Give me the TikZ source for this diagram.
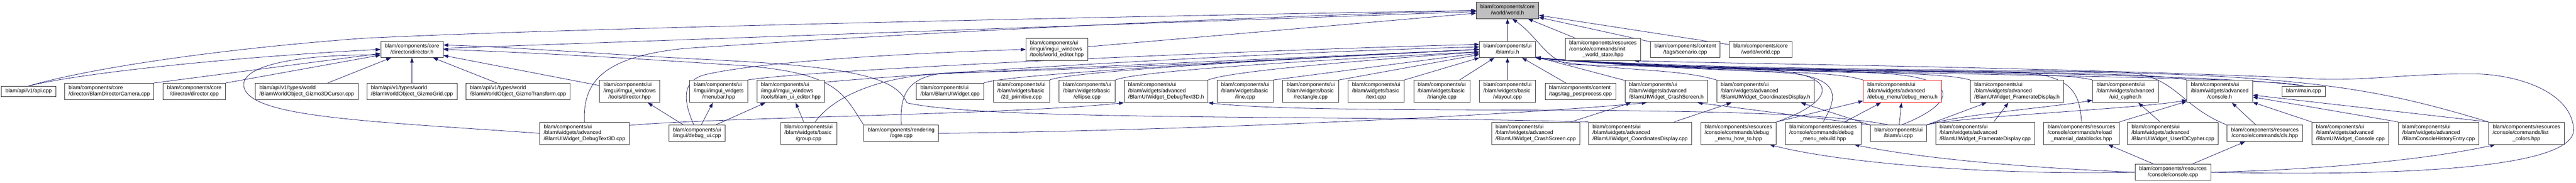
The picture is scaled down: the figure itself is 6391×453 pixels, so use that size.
\documentclass[tikz,border=0pt]{standalone}
\usepackage{fontspec}
\setmainfont{Liberation Sans}
\usetikzlibrary{arrows.meta}
\pgfdeclarelayer{bg}
\pgfsetlayers{bg,main}
\definecolor{edgeblue}{HTML}{191970}
\definecolor{rootgray}{HTML}{BFBFBF}
\newcommand{\oneln}[1]{\begin{tabular}{@{}c@{}}#1\end{tabular}}
\newcommand{\twoln}[2]{\begin{tabular}{@{}l@{}}#1\\\multicolumn{1}{@{}c@{}}{#2}\end{tabular}}
\newcommand{\threeln}[3]{\begin{tabular}{@{}l@{}}#1\\#2\\\multicolumn{1}{@{}c@{}}{#3}\end{tabular}}
\tikzset{
  file/.style={draw=black!80, fill=white, line width=0.75pt, inner xsep=7.5pt, inner ysep=3.9pt, font=\fontsize{10}{11.25}\selectfont},
  root/.style={file, fill=rootgray},
  trunc/.style={file, draw=red},
  inc/.style={draw=edgeblue, line width=0.75pt, -{Triangle[length=9pt,width=6.5pt]}}
}

\begin{document}
\begin{tikzpicture}[x=0.75pt, y=-0.75pt]
			%%%%% START %%%%%
			\useasboundingbox (0,0) rectangle (6391,453);
			
			\node[root] (worldh) at (3740,26) {\twoln{blam/components/core}{/world/world.h}};
			
			\node[file] (dirh) at (1022,122.5) {\twoln{blam/components/core}{/director/director.h}};
			\node[file] (wed) at (2622,122.5) {\threeln{blam/components/ui}{/imgui/imgui\_windows}{/tools/world\_editor.hpp}};
			\node[file] (uih) at (3740,122.5) {\twoln{blam/components/ui}{/blam/ui.h}};
			\node[file] (initws) at (3977,122.5) {\threeln{blam/components/resources}{/console/commands/init}{\_world\_state.hpp}};
			\node[file] (scen) at (4181,122.5) {\twoln{blam/components/content}{/tags/scenario.cpp}};
			\node[file] (worldcpp) at (4368,122.5) {\twoln{blam/components/core}{/world/world.cpp}};
			
			\node[file] (api) at (71,226.5) {\oneln{blam/api/v1/api.cpp}};
			\node[file] (dircam) at (271,226.5) {\twoln{blam/components/core}{/director/BlamDirectorCamera.cpp}};
			\node[file] (dircpp) at (482,226.5) {\twoln{blam/components/core}{/director/director.cpp}};
			\node[file] (cursor) at (761,226.5) {\twoln{blam/api/v1/types/world}{/BlamWorldObject\_Gizmo3DCursor.cpp}};
			\node[file] (grid) at (1022,226.5) {\twoln{blam/api/v1/types/world}{/BlamWorldObject\_GizmoGrid.cpp}};
			\node[file] (gtrans) at (1285,226.5) {\twoln{blam/api/v1/types/world}{/BlamWorldObject\_GizmoTransform.cpp}};
			\node[file] (dirhpp) at (1562,226.5) {\threeln{blam/components/ui}{/imgui/imgui\_windows}{/tools/director.hpp}};
			\node[file] (menubar) at (1783,226.5) {\threeln{blam/components/ui}{/imgui/imgui\_widgets}{/menubar.hpp}};
			\node[file] (uied) at (1962,226.5) {\threeln{blam/components/ui}{/imgui/imgui\_windows}{/tools/blam\_ui\_editor.hpp}};
			\node[file] (widgetcpp) at (2357,226.5) {\twoln{blam/components/ui}{/blam/BlamUIWidget.cpp}};
			\node[file] (prim) at (2534,226.5) {\threeln{blam/components/ui}{/blam/widgets/basic}{/2d\_primitive.cpp}};
			\node[file] (ellipse) at (2697,226.5) {\threeln{blam/components/ui}{/blam/widgets/basic}{/ellipse.cpp}};
			\node[file] (dt3dh) at (2893,226.5) {\threeln{blam/components/ui}{/blam/widgets/advanced}{/BlamUIWidget\_DebugText3D.h}};
			\node[file] (linecpp) at (3089,226.5) {\threeln{blam/components/ui}{/blam/widgets/basic}{/line.cpp}};
			\node[file] (rectcpp) at (3252,226.5) {\threeln{blam/components/ui}{/blam/widgets/basic}{/rectangle.cpp}};
			\node[file] (textcpp) at (3414,226.5) {\threeln{blam/components/ui}{/blam/widgets/basic}{/text.cpp}};
			\node[file] (tricpp) at (3577,226.5) {\threeln{blam/components/ui}{/blam/widgets/basic}{/triangle.cpp}};
			\node[file] (vlay) at (3740,226.5) {\threeln{blam/components/ui}{/blam/widgets/basic}{/vlayout.cpp}};
			\node[file] (tagpp) at (3921,226.5) {\twoln{blam/components/content}{/tags/tag\_postprocess.cpp}};
			\node[file] (crashh) at (4134,226.5) {\threeln{blam/components/ui}{/blam/widgets/advanced}{/BlamUIWidget\_CrashScreen.h}};
			\node[file] (coordh) at (4380,226.5) {\threeln{blam/components/ui}{/blam/widgets/advanced}{/BlamUIWidget\_CoordinatesDisplay.h}};
			\node[trunc] (dbgmenu) at (4720,226.5) {\threeln{blam/components/ui}{/blam/widgets/advanced}{/debug\_menu/debug\_menu.h}};
			\node[file] (frameh) at (5004,226.5) {\threeln{blam/components/ui}{/blam/widgets/advanced}{/BlamUIWidget\_FramerateDisplay.h}};
			\node[file] (uidh) at (5273,226.5) {\threeln{blam/components/ui}{/blam/widgets/advanced}{/uid\_cypher.h}};
			\node[file] (consh) at (5507,226.5) {\threeln{blam/components/ui}{/blam/widgets/advanced}{/console.h}};
			\node[file] (mainc) at (5715,226.5) {\oneln{blam/main.cpp}};
			
			\node[file] (dt3dcpp) at (1450,330.5) {\threeln{blam/components/ui}{/blam/widgets/advanced}{/BlamUIWidget\_DebugText3D.cpp}};
			\node[file] (dbgui) at (1729,330.5) {\twoln{blam/components/ui}{/imgui/debug\_ui.cpp}};
			\node[file] (group) at (2006,330.5) {\threeln{blam/components/ui}{/blam/widgets/basic}{/group.cpp}};
			\node[file] (ogre) at (2236,330.5) {\twoln{blam/components/rendering}{/ogre.cpp}};
			\node[file] (crashcpp) at (3810,330.5) {\threeln{blam/components/ui}{/blam/widgets/advanced}{/BlamUIWidget\_CrashScreen.cpp}};
			\node[file] (coordcpp) at (4069,330.5) {\threeln{blam/components/ui}{/blam/widgets/advanced}{/BlamUIWidget\_CoordinatesDisplay.cpp}};
			\node[file] (howto) at (4313,330.5) {\threeln{blam/components/resources}{/console/commands/debug}{\_menu\_how\_to.hpp}};
			\node[file] (rebuild) at (4523,330.5) {\threeln{blam/components/resources}{/console/commands/debug}{\_menu\_rebuild.hpp}};
			\node[file] (uicpp) at (4710,330.5) {\twoln{blam/components/ui}{/blam/ui.cpp}};
			\node[file] (framecpp) at (4925,330.5) {\threeln{blam/components/ui}{/blam/widgets/advanced}{/BlamUIWidget\_FramerateDisplay.cpp}};
			\node[file] (reload) at (5164,330.5) {\threeln{blam/components/resources}{/console/commands/reload}{\_material\_datablocks.hpp}};
			\node[file] (uidcpp) at (5391,330.5) {\threeln{blam/components/ui}{/blam/widgets/advanced}{/BlamUIWidget\_UserIDCypher.cpp}};
			\node[file] (cls) at (5619,330.5) {\twoln{blam/components/resources}{/console/commands/cls.hpp}};
			\node[file] (conswcpp) at (5831,330.5) {\threeln{blam/components/ui}{/blam/widgets/advanced}{/BlamUIWidget\_Console.cpp}};
			\node[file] (hist) at (6050,330.5) {\threeln{blam/components/ui}{/blam/widgets/advanced}{/BlamConsoleHistoryEntry.cpp}};
			\node[file] (lcol) at (6268,330.5) {\threeln{blam/components/resources}{/console/commands/list}{\_colors.hpp}};
			
			\node[file] (conscpp) at (5391,427) {\twoln{blam/components/resources}{/console/console.cpp}};
			
			\begin{pgfonlayer}{bg}
			% world.h
			\draw[inc] (dirh) -- (worldh);
			\draw[inc] (uih) -- (worldh);
			\draw[inc] (initws) -- (worldh);
			\draw[inc] (scen) -- (worldh);
			\draw[inc] (worldcpp) -- (worldh);
			\draw[inc] (wed) -- (worldh);
			\draw[inc] (api.north) .. controls (200,175) and (500,125) .. (900,95) .. controls (1400,70) and (2800,40) .. (worldh.west);
			\draw[inc] (dt3dcpp.north) .. controls (1445,200) and (1500,140) .. (1700,120) .. controls (2300,80) and (3000,45) .. (worldh.west);
			\draw[inc] (mainc.north) .. controls (5500,180) and (4500,175) .. (3900,160) .. controls (3840,155) and (3815,90) .. (worldh.-60);
			
			% director.h
			\draw[inc] (api.north) .. controls (200,180) and (600,140) .. (dirh.west);
			\draw[inc] (dircam.north east) -- (dirh);
			\draw[inc] (dircpp.north east) -- (dirh);
			\draw[inc] (cursor) -- (dirh);
			\draw[inc] (grid) -- (dirh);
			\draw[inc] (gtrans) -- (dirh);
			\draw[inc] (dirhpp) -- (dirh);
			\draw[inc] (dt3dcpp.west) .. controls (900,300) and (620,290) .. (605,215) .. controls (595,160) and (750,135) .. (dirh.190);
			\draw[inc] (ogre.north west) .. controls (2090,230) and (2080,175) .. (1800,160) .. controls (1500,140) and (1300,130) .. (dirh.east);
			\draw[inc] (coordcpp.north west) .. controls (3300,285) and (2450,300) .. (2250,255) .. controls (2225,200) and (2150,168) .. (1800,150) .. controls (1500,135) and (1300,118) .. (dirh.8);
			
			% imgui windows and widgets
			\draw[inc] (dbgui.110) .. controls (1695,250) and (1690,200) .. (1750,185) .. controls (1900,150) and (2300,130) .. (wed.west);
			\draw[inc] (dbgui) -- (dirhpp);
			\draw[inc] (dbgui) -- (menubar);
			\draw[inc] (dbgui) -- (uied);
			\draw[inc] (group) -- (uied);
			
			% ui.h
			\draw[inc] (menubar.north east) .. controls +(150,-25) and +(-600,15) .. (uih.170);
			\draw[inc] (uied.15) .. controls +(150,-15) and +(-600,15) .. (uih.175);
			\draw[inc] (group.60) .. controls (2060,250) and (2150,200) .. (2300,185) .. controls (2700,165) and (3300,140) .. (uih.west);
			\draw[inc] (ogre.north) .. controls (2232,230) and (2250,175) .. (2400,180) .. controls (2900,165) and (3300,140) .. (uih.west);
			\draw[inc] (widgetcpp.north east) .. controls +(60,-25) and +(-300,15) .. (uih.west);
			\draw[inc] (prim.north east) .. controls +(60,-25) and +(-300,15) .. (uih.west);
			\draw[inc] (ellipse.north east) .. controls +(60,-25) and +(-300,15) .. (uih.185);
			\draw[inc] (dt3dh.north east) .. controls +(60,-25) and +(-200,15) .. (uih.185);
			\draw[inc] (linecpp.north east) -- (uih);
			\draw[inc] (rectcpp.north east) -- (uih);
			\draw[inc] (textcpp.north east) -- (uih);
			\draw[inc] (tricpp) -- (uih);
			\draw[inc] (vlay) -- (uih);
			\draw[inc] (tagpp) -- (uih);
			\draw[inc] (crashh) -- (uih);
			\draw[inc] (coordh.north west) .. controls +(-100,-30) and +(200,35) .. (uih.south east);
			\draw[inc] (dbgmenu.north west) .. controls +(-100,-30) and +(500,45) .. (uih.south east);
			\draw[inc] (frameh.north west) .. controls +(-100,-30) and +(500,45) .. (uih.south east);
			\draw[inc] (uidh.north west) .. controls +(-100,-30) and +(500,45) .. (uih.south east);
			\draw[inc] (consh.north west) .. controls +(-100,-30) and +(500,45) .. (uih.south east);
			\draw[inc] (mainc.north) .. controls +(-100,-30) and +(500,45) .. (uih.south east);
			\draw[inc] (uicpp.70) .. controls (4870,250) and (4870,180) .. (4600,180) .. controls (4300,170) and (4000,160) .. (uih.south east);
			\draw[inc] (howto.north east) .. controls (4560,250) and (4560,185) .. (4400,175) .. controls (4200,165) and (4000,160) .. (uih.south east);
			\draw[inc] (rebuild.north) .. controls (4560,240) and (4570,190) .. (4420,180) .. controls (4200,168) and (4000,160) .. (uih.south east);
			\draw[inc] (reload.north) .. controls (5160,230) and (5140,185) .. (5000,178) .. controls (4600,172) and (4200,172) .. (uih.south east);
			\draw[inc] (cls.north west) .. controls (5400,260) and (5400,180) .. (5250,178) .. controls (4800,172) and (4200,172) .. (uih.south east);
			\draw[inc] (lcol.north west) .. controls (5900,220) and (5700,175) .. (4900,178) .. controls (4400,172) and (4000,165) .. (uih.south east);
			
			% widgets
			\draw[inc] (dt3dcpp.10) .. controls (1800,290) and (2500,285) .. (dt3dh.south west);
			\draw[inc] (uicpp.140) .. controls (4400,250) and (3300,290) .. (dt3dh.south east);
			\draw[inc] (crashcpp) -- (crashh);
			\draw[inc] (uicpp.north west) -- (crashh.-20);
			\draw[inc] (ogre.east) .. controls (2900,325) and (3700,290) .. (crashh.-150);
			\draw[inc] (coordcpp) -- (coordh);
			\draw[inc] (uicpp.north west) -- (coordh);
			\draw[inc] (howto.north east) -- (dbgmenu);
			\draw[inc] (rebuild) -- (dbgmenu);
			\draw[inc] (uicpp) -- (dbgmenu);
			\draw[inc] (framecpp) -- (frameh);
			\draw[inc] (uicpp.north east) -- (frameh);
			\draw[inc] (uidcpp) -- (uidh);
			\draw[inc] (uicpp.north east) .. controls (4850,285) and (5100,265) .. (uidh.-165);
			
			% console.h
			\draw[inc] (uicpp.north east) .. controls (4850,290) and (5300,270) .. (consh.-165);
			\draw[inc] (reload.north east) -- (consh);
			\draw[inc] (cls) -- (consh);
			\draw[inc] (conswcpp.north west) -- (consh);
			\draw[inc] (hist.north west) -- (consh);
			\draw[inc] (lcol.north west) -- (consh);
			
			% console.cpp
			\draw[inc] (conscpp) -- (reload);
			\draw[inc] (conscpp) -- (cls);
			\draw[inc] (conscpp.west) .. controls (5000,415) and (4750,390) .. (rebuild.-20);
			\draw[inc] (conscpp.west) .. controls (4900,435) and (4550,400) .. (howto.-20);
			\draw[inc] (conscpp.east) .. controls (5800,420) and (6050,390) .. (lcol.-160);
			\draw[inc] (conscpp.east) .. controls (6100,440) and (6390,400) .. (6385,320) .. controls (6380,230) and (6250,183) .. (6130,183) .. controls (5950,183) and (5850,205) .. (5700,193) .. controls (5000,165) and (4400,160) .. (initws.-20);
			\end{pgfonlayer}
			
			%%%%% END %%%%%
\end{tikzpicture}
\end{document}
